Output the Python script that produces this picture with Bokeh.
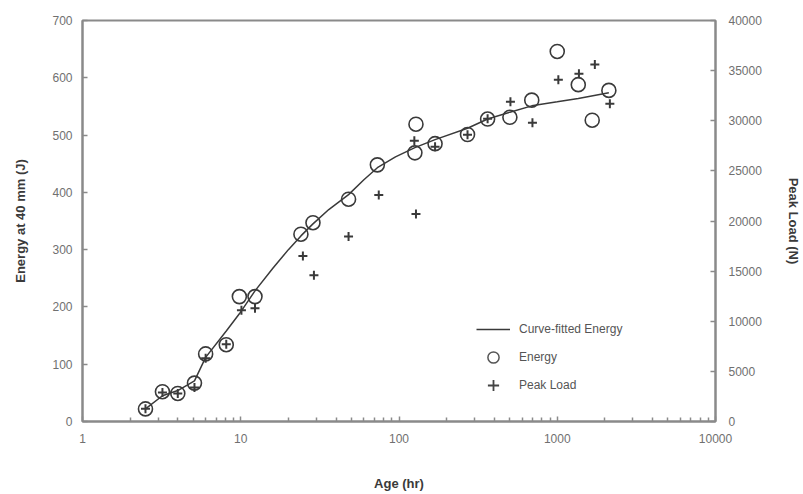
from bokeh.plotting import figure
from bokeh.models import (Range1d, LinearAxis, FixedTicker, NumeralTickFormatter,
                          Legend, LegendItem, ColumnDataSource)
from bokeh.embed import file_html
from bokeh.resources import INLINE

# ---- data ----
energy_age = [2.5, 3.2, 4.0, 5.1, 6.0, 8.1, 9.8, 12.3, 24, 28.6, 48, 73, 126, 128, 169, 271, 363, 502, 690, 1000, 1358, 1663, 2119]
energy_j = [22, 52, 49, 67, 118, 134, 218, 218, 327, 347, 388, 448, 469, 519, 485, 501, 528, 531, 561, 646, 588, 526, 578]

load_age = [2.5, 3.2, 4.0, 5.1, 6.0, 8.1, 10.1, 12.3, 24.7, 29, 48, 74.5, 125, 128, 169, 271, 363, 506, 697, 1016, 1371, 1728, 2150]
load_n = [1260, 2900, 2800, 3400, 6300, 7700, 11100, 11300, 16500, 14600, 18450, 22600, 28000, 20700, 27400, 28600, 30200, 31900, 29800, 34100, 34700, 35600, 31700]

fit_age = [2.5, 3.2, 4.0, 5.1, 6.0, 8.1, 9.8, 12.3, 16, 20, 24, 28.6, 36, 48, 60, 73, 95, 126, 169, 271, 363, 502, 690, 1000, 1358, 2119]
fit_j = [22, 45, 54, 71, 112, 158, 188, 228, 268, 300, 324, 345, 370, 396, 422, 443, 462, 478, 492, 512, 528, 540, 551, 558, 564, 574]

x_ticks = [1, 10, 100, 1000, 10000]
left_ticks = [0, 100, 200, 300, 400, 500, 600, 700]
right_ticks = [0, 5000, 10000, 15000, 20000, 25000, 30000, 35000, 40000]

FONT = "Liberation Sans"
TICK_COL = "#707070"
AX_COL = "#8a8a8a"
INK = "#3a3a3a"

p = figure(width=803, height=494, x_axis_type="log",
           x_range=Range1d(1, 10000), y_range=Range1d(0, 700),
           output_backend="svg", toolbar_location=None,
           min_border_left=82, min_border_right=86, min_border_top=20, min_border_bottom=73)
p.extra_y_ranges = {"load": Range1d(0, 40000)}

p.grid.visible = False
p.outline_line_color = AX_COL
p.outline_line_width = 2
p.background_fill_color = "white"
p.border_fill_color = "white"

minor = [m * d for d in [1, 10, 100, 1000] for m in range(2, 10)]
xa = p.xaxis[0]
xa.ticker = FixedTicker(ticks=x_ticks, minor_ticks=minor)
xa.formatter = NumeralTickFormatter(format="0")
xa.axis_label = "Age (hr)"

ya = p.yaxis[0]
ya.ticker = FixedTicker(ticks=left_ticks)
ya.axis_label = "Energy at 40 mm (J)"

ra = LinearAxis(y_range_name="load", axis_label="Peak Load (N)")
ra.ticker = FixedTicker(ticks=right_ticks)
ra.formatter = NumeralTickFormatter(format="0")
p.add_layout(ra, "right")

for ax in [xa, ya, ra]:
    ax.axis_line_color = AX_COL
    ax.axis_line_width = 2
    ax.major_tick_line_color = AX_COL
    ax.major_tick_line_width = 1.5
    ax.major_tick_in = 5
    ax.major_tick_out = 0
    ax.minor_tick_line_color = AX_COL
    ax.minor_tick_line_width = 1.5
    ax.minor_tick_in = 4
    ax.minor_tick_out = 0
    ax.major_label_text_font = FONT
    ax.major_label_text_font_size = "12px"
    ax.major_label_text_color = TICK_COL
    ax.axis_label_text_font = FONT
    ax.axis_label_text_font_size = "13px"
    ax.axis_label_text_font_style = "bold"
    ax.axis_label_text_color = INK

xa.major_label_standoff = 12
xa.axis_label_standoff = 30
ya.major_label_standoff = 10
ya.axis_label_standoff = 21
ya.minor_tick_in = 0
ra.major_label_standoff = 13
ra.axis_label_standoff = 21
ra.minor_tick_in = 0

fit_src = ColumnDataSource(dict(x=fit_age, y=fit_j))
e_src = ColumnDataSource(dict(x=energy_age, y=energy_j))
l_src = ColumnDataSource(dict(x=load_age, y=load_n))

r_fit = p.line("x", "y", source=fit_src, line_color=INK, line_width=1.5)
r_e = p.scatter("x", "y", source=e_src, marker="circle", size=14,
                fill_color=None, line_color=INK, line_width=1.6)
r_l = p.scatter("x", "y", source=l_src, marker="cross", size=9,
                line_color=INK, line_width=2, y_range_name="load")

# smaller legend-only glyphs (NaN data, nothing drawn in the plot)
nan_src = ColumnDataSource(dict(x=[float("nan")], y=[float("nan")]))
lg_e = p.scatter("x", "y", source=nan_src, marker="circle", size=9,
                 fill_color=None, line_color="#555555", line_width=1.5)
lg_l = p.scatter("x", "y", source=nan_src, marker="cross", size=8,
                 line_color="#444444", line_width=1.8)

legend = Legend(items=[LegendItem(label="Curve-fitted Energy", renderers=[r_fit]),
                       LegendItem(label="Energy", renderers=[lg_e]),
                       LegendItem(label="Peak Load", renderers=[lg_l])],
                location=(394, 22), orientation="vertical",
                border_line_color=None, background_fill_alpha=0,
                label_text_font=FONT, label_text_font_size="12px",
                label_text_color="#555555", glyph_width=34, glyph_height=28,
                label_height=28, spacing=0, padding=0, margin=0, label_standoff=9)
p.add_layout(legend, "center")

open("out.html", "w").write(file_html(p, INLINE))
